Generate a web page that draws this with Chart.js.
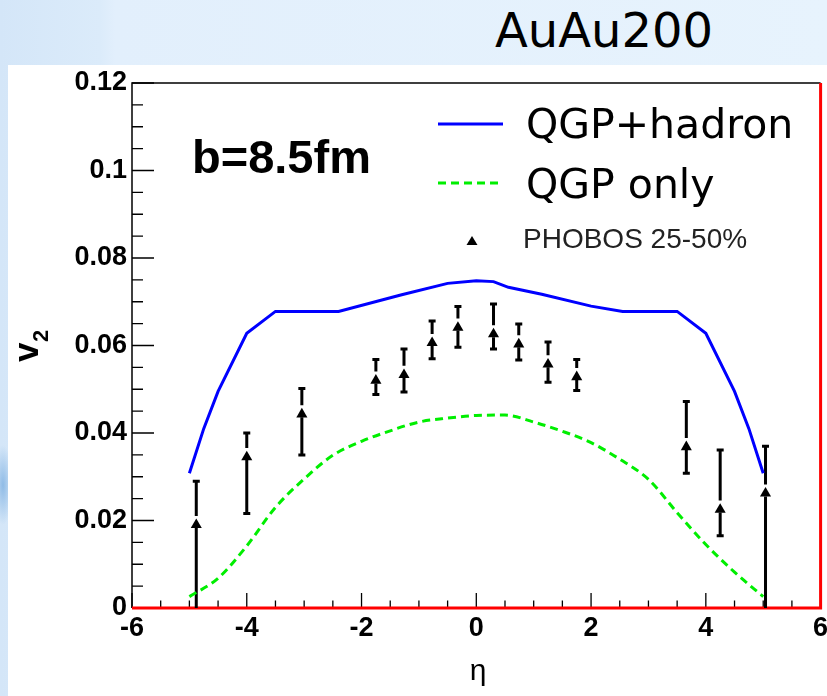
<!DOCTYPE html>
<html>
<head>
<meta charset="utf-8">
<script src="https://cdn.jsdelivr.net/npm/chart.js@4.4.1/dist/chart.umd.min.js"></script>
<style>
  html, body { margin: 0; padding: 0; }
  body {
    width: 827px; height: 696px; overflow: hidden; position: relative;
    background:
      radial-gradient(ellipse 10px 40px at 3px 485px, #8fbbe6 0%, rgba(143,187,230,0) 100%),
      linear-gradient(90deg, #d4e6f8 0px, #dbebfa 100px, #e2effc 115px, #e7f3fd 100%);
  }
  #title {
    position: absolute; left: 495px; top: 6px;
    font-family: "DejaVu Sans"; font-size: 48px; line-height: 48px; color: #000;
  }
  #panel { position: absolute; left: 8px; top: 65px; width: 819px; height: 631px; background: #fff; }
</style>
</head>
<body>
<div id="title">AuAu200</div>
<div id="panel"><canvas id="v2chart" width="819" height="631"></canvas></div>
<script>
// hydro curve with hadronic afterburner (solid blue)
const etaFull = [-5.0, -4.75, -4.5, -4.0, -3.5, -2.4, -1.3, -0.5, 0, 0.3, 0.56, 1.14, 2.0, 2.55, 3.5, 4.0, 4.5, 4.75, 5.0];
const v2Full  = [0.0308, 0.041, 0.0495, 0.0628, 0.0678, 0.0678, 0.0716, 0.0742, 0.0748, 0.0746, 0.0733, 0.0717, 0.069, 0.0678, 0.0678, 0.0628, 0.0495, 0.041, 0.0308];

// QGP phase only (green dashed)
const etaQgp = [-5.0, -4.5, -4.0, -3.5, -3.0, -2.5, -2.0, -1.5, -1.0, -0.5, 0, 0.5, 1.0, 1.5, 2.0, 2.5, 3.0, 3.5, 4.0, 4.5, 5.0];
const v2Qgp  = [0.0026, 0.0068, 0.0142, 0.0230, 0.0295, 0.0349, 0.0381, 0.0405, 0.0425, 0.0434, 0.0440, 0.0441, 0.0425, 0.0404, 0.0378, 0.0340, 0.0294, 0.0218, 0.0145, 0.0082, 0.0026];

// PHOBOS 25-50% data with error bars
const etaPhobos    = [-4.88, -4.0, -3.04, -1.75, -1.26, -0.77, -0.32, 0.30, 0.74, 1.25, 1.75, 3.66, 4.25, 5.04];
const v2Phobos     = [0.0190, 0.0345, 0.0443, 0.0520, 0.0533, 0.0606, 0.0641, 0.0626, 0.0603, 0.0557, 0.0528, 0.0368, 0.0225, 0.0262];
const v2PhobosHigh = [0.0290, 0.0400, 0.0502, 0.0568, 0.0592, 0.0656, 0.0689, 0.0695, 0.0649, 0.0608, 0.0568, 0.0472, 0.0361, 0.0370];
const v2PhobosLow  = [0, 0.0216, 0.0350, 0.0488, 0.0494, 0.0570, 0.0596, 0.0592, 0.0567, 0.0516, 0.0497, 0.0308, 0.0165, 0];

const xTickValues = [-6, -4, -2, 0, 2, 4, 6];
const yTickValues = [0, 0.02, 0.04, 0.06, 0.08, 0.1, 0.12];
const yTickLabels = ['0', '0.02', '0.04', '0.06', '0.08', '0.1', '0.12'];

const tickFont = { family: '"Liberation Sans"', weight: 'bold', size: 27 };

// ROOT-like frame: inward ticks on left and bottom, red lines on bottom and right
const rootFrame = {
  id: 'rootFrame',
  beforeDatasetsDraw(chart) {
    const { ctx, chartArea: a, scales: { x, y } } = chart;
    ctx.save();
    ctx.strokeStyle = '#000';
    ctx.lineWidth = 1.5;
    ctx.beginPath();
    ctx.moveTo(a.left, a.bottom);
    ctx.lineTo(a.left, a.top);
    ctx.lineTo(a.right, a.top);
    ctx.stroke();

    ctx.lineWidth = 1.3;
    ctx.beginPath();
    for (let v = y.min; v <= y.max + 1e-9; v += 0.005) {
      const py = y.getPixelForValue(v);
      const major = Math.abs(v / 0.02 - Math.round(v / 0.02)) < 1e-6;
      ctx.moveTo(a.left, py);
      ctx.lineTo(a.left + (major ? 22 : 11), py);
    }
    for (let v = x.min; v <= x.max + 1e-9; v += 0.5) {
      const px = x.getPixelForValue(v);
      const major = Math.abs(v / 2 - Math.round(v / 2)) < 1e-6;
      ctx.moveTo(px, a.bottom);
      ctx.lineTo(px, a.bottom - (major ? 15 : 7.5));
    }
    ctx.stroke();

    ctx.strokeStyle = '#ff0000';
    ctx.lineWidth = 3;
    ctx.beginPath();
    ctx.moveTo(a.left, a.bottom);
    ctx.lineTo(a.right, a.bottom);
    ctx.lineTo(a.right, a.top);
    ctx.stroke();
    ctx.restore();
  }
};

const errorBars = {
  id: 'errorBars',
  beforeDatasetsDraw(chart) {
    const { ctx, scales: { x, y } } = chart;
    ctx.save();
    ctx.strokeStyle = '#000';
    ctx.lineWidth = 3;
    etaPhobos.forEach((eta, i) => {
      const px = x.getPixelForValue(eta);
      const pc = y.getPixelForValue(v2Phobos[i]);
      const pHi = y.getPixelForValue(v2PhobosHigh[i]);
      const pLo = y.getPixelForValue(v2PhobosLow[i]);
      ctx.beginPath();
      ctx.moveTo(px, pHi); ctx.lineTo(px, pc - 9);
      ctx.moveTo(px, pc + 3); ctx.lineTo(px, pLo);
      ctx.moveTo(px - 3.5, pHi); ctx.lineTo(px + 3.5, pHi);
      if (v2PhobosLow[i] > 0) { ctx.moveTo(px - 3.5, pLo); ctx.lineTo(px + 3.5, pLo); }
      ctx.stroke();
    });
    ctx.restore();
  }
};

const inPlotLegend = {
  id: 'inPlotLegend',
  afterDatasetsDraw(chart) {
    const { ctx } = chart;
    const [full, qgp, phobos] = chart.data.datasets;
    ctx.save();
    ctx.lineWidth = 3;
    ctx.strokeStyle = full.borderColor;
    ctx.beginPath(); ctx.moveTo(430, 59); ctx.lineTo(495, 59); ctx.stroke();
    ctx.strokeStyle = qgp.borderColor;
    ctx.setLineDash(qgp.borderDash);
    ctx.beginPath(); ctx.moveTo(430, 118); ctx.lineTo(495, 118); ctx.stroke();
    ctx.setLineDash([]);

    // legend marker
    ctx.fillStyle = '#000';
    ctx.beginPath();
    ctx.moveTo(464, 171); ctx.lineTo(469.5, 180); ctx.lineTo(458.5, 180);
    ctx.closePath(); ctx.fill();

    ctx.textBaseline = 'alphabetic';
    ctx.font = '41px "DejaVu Sans"';
    ctx.fillText(full.label, 518, 73);
    ctx.fillText(qgp.label, 518, 133);
    ctx.font = '28px "Liberation Sans"';
    ctx.fillStyle = '#222';
    ctx.textBaseline = 'middle';
    ctx.fillText(phobos.label, 515, 175);

    ctx.fillStyle = '#000';
    ctx.textBaseline = 'alphabetic';
    ctx.font = 'bold 47px "Liberation Sans"';
    ctx.fillText('b=8.5fm', 184, 108);
    ctx.restore();
  }
};

const axisTitles = {
  id: 'axisTitles',
  afterDraw(chart) {
    const { ctx } = chart;
    ctx.save();
    ctx.fillStyle = '#000';
    ctx.textBaseline = 'alphabetic';
    ctx.translate(30, 297);
    ctx.rotate(-Math.PI / 2);
    ctx.font = 'bold 35px "Liberation Sans"';
    ctx.fillText('v', 0, 0);
    ctx.font = 'bold 22px "Liberation Sans"';
    ctx.fillText('2', 20, 10);
    ctx.restore();

    ctx.save();
    ctx.fillStyle = '#000';
    ctx.textAlign = 'center';
    ctx.font = '30px "Liberation Sans"';
    ctx.fillText('η', 470, 615);
    ctx.restore();
  }
};

new Chart(document.getElementById('v2chart'), {
  type: 'scatter',
  data: {
    datasets: [
      {
        label: 'QGP+hadron',
        data: etaFull.map((e, i) => ({ x: e, y: v2Full[i] })),
        showLine: true, borderColor: '#0000ff', borderWidth: 3, pointRadius: 0, tension: 0
      },
      {
        label: 'QGP only',
        data: etaQgp.map((e, i) => ({ x: e, y: v2Qgp[i] })),
        showLine: true, borderColor: '#00ee00', borderWidth: 3, borderDash: [8, 5],
        pointRadius: 0, cubicInterpolationMode: 'monotone'
      },
      {
        label: 'PHOBOS 25-50%',
        data: etaPhobos.map((e, i) => ({ x: e, y: v2Phobos[i] })),
        showLine: false, pointStyle: 'triangle', pointRadius: 6.4,
        backgroundColor: '#000', borderColor: '#000', borderWidth: 0
      }
    ]
  },
  options: {
    responsive: false,
    animation: false,
    devicePixelRatio: 1,
    layout: { padding: { top: 18, right: 4, left: 0, bottom: 0 } },
    plugins: { legend: { display: false }, tooltip: { enabled: false } },
    scales: {
      x: {
        type: 'linear', min: -6, max: 6,
        afterBuildTicks: s => { s.ticks = xTickValues.map(v => ({ value: v })); },
        ticks: { font: tickFont, color: '#000', padding: 4, maxRotation: 0, autoSkip: false },
        grid: { display: false, drawTicks: false },
        border: { display: false },
        afterFit: s => { s.height = 88; s.paddingLeft = 0; s.paddingRight = 0; }
      },
      y: {
        type: 'linear', min: 0, max: 0.12,
        afterBuildTicks: s => { s.ticks = yTickValues.map(v => ({ value: v })); },
        ticks: {
          font: tickFont, color: '#000', padding: 5, autoSkip: false,
          callback: (v, i) => yTickLabels[i]
        },
        grid: { display: false, drawTicks: false },
        border: { display: false },
        afterFit: s => { s.width = 124; s.paddingTop = 0; s.paddingBottom = 0; }
      }
    }
  },
  plugins: [rootFrame, errorBars, inPlotLegend, axisTitles]
});
</script>
</body>
</html>
